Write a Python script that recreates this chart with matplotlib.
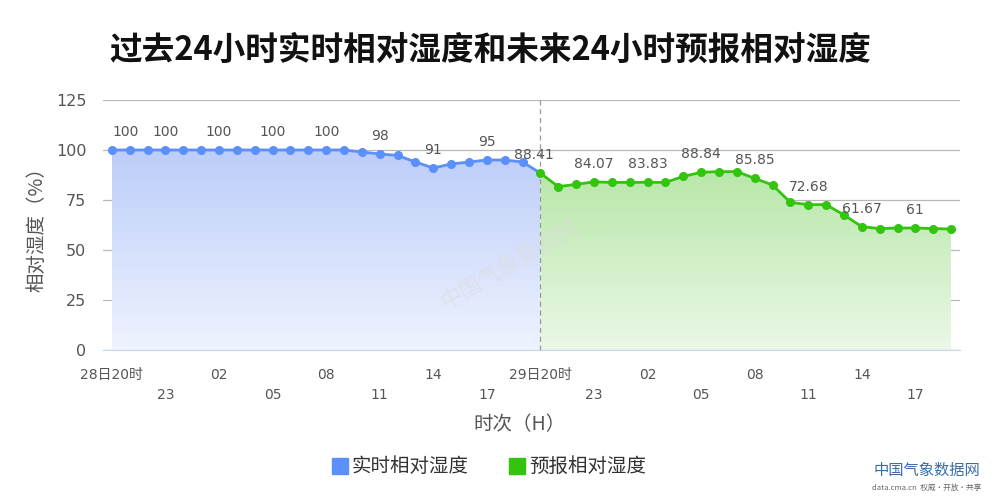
"""过去24小时实时相对湿度和未来24小时预报相对湿度"""
import numpy as np
import matplotlib
matplotlib.use("Agg")
import matplotlib.pyplot as plt
from matplotlib.patches import Rectangle

plt.rcParams["font.family"] = ["Noto Sans CJK SC", "DejaVu Sans"]
NUM_FONT = ["DejaVu Sans", "Noto Sans CJK SC"]

# 实时 (28日20时 - 29日19时), 预报 (29日20时 - 30日19时)
shishi = [100, 100, 100, 100, 100, 100, 100, 100, 100, 100, 100, 100, 100, 100,
          99, 98, 97.3, 94, 91, 93, 94, 95, 95, 94]
yubao = [88.41, 81.7, 82.8, 84.07, 83.8, 83.8, 83.83, 83.8, 86.8, 88.84, 89.2, 89.2,
         85.85, 82.5, 73.8, 72.68, 72.7, 67.5, 61.67, 60.7, 61, 61, 60.7, 60.5]
shishi_labels = ["100", "100", "100", "100", "100", "98", "91", "95"]
yubao_labels = ["88.41", "84.07", "83.83", "88.84", "85.85", "72.68", "61.67", "61"]
ore = ["28日20时", "21", "22", "23", "00", "01", "02", "03", "04", "05", "06", "07",
       "08", "09", "10", "11", "12", "13", "14", "15", "16", "17", "18", "19",
       "29日20时", "21", "22", "23", "00", "01", "02", "03", "04", "05", "06", "07",
       "08", "09", "10", "11", "12", "13", "14", "15", "16", "17", "18", "19"]

ALBASTRU = "#5b8ff9"
VERDE = "#33c40e"
GRI = "#555555"


def umple_gradient(ax, x, y, c_sus, c_jos):
    poly = ax.fill_between(x, y, 0, color="none", lw=0)
    grad = np.linspace(0, 1, 256).reshape(-1, 1)
    c1 = np.array(matplotlib.colors.to_rgb(c_sus))
    c2 = np.array(matplotlib.colors.to_rgb(c_jos))
    img = c2 + (c1 - c2) * grad
    im = ax.imshow(img[:, None, :].repeat(2, axis=1), extent=[x[0], x[-1], 0, 100],
                   origin="lower", aspect="auto", zorder=1)
    path = poly.get_paths()[0]
    im.set_clip_path(path, transform=ax.transData)


fig = plt.figure(figsize=(10, 5), dpi=100)
ax = fig.add_axes([0.103, 0.3, 0.857, 0.5])

n1 = len(shishi)
x1 = np.arange(n1 + 1)
y1 = np.array(shishi + [yubao[0]])
x2 = np.arange(n1, n1 + len(yubao))
y2 = np.array(yubao)

umple_gradient(ax, x1, y1, "#bccdf9", "#eef3fe")
umple_gradient(ax, x2, y2, "#b2e5a2", "#ebf8e7")

ax.plot(x1, y1, color=ALBASTRU, lw=2, zorder=3)
ax.plot(x1[:-1], y1[:-1], "o", color=ALBASTRU, ms=5.5, zorder=4)
ax.plot(x2, y2, color=VERDE, lw=2, marker="o", ms=5.5, zorder=5)

ax.axvline(n1, color="#999999", lw=0.9, ls=(0, (4, 3)), zorder=2)

# etichete valori la fiecare 3 ore
for j, lab in enumerate(shishi_labels):
    k = 3 * j
    dx = 10 if k == 0 else 0
    ax.annotate(lab, (x1[k], y1[k]), xytext=(dx, 13), textcoords="offset points",
                ha="center", va="center", fontsize=10, color=GRI, zorder=6,
                family=NUM_FONT)
for j, lab in enumerate(yubao_labels):
    k = 3 * j
    dx = -5 if k == 0 else 0
    ax.annotate(lab, (x2[k], y2[k]), xytext=(dx, 13), textcoords="offset points",
                ha="center", va="center", fontsize=10, color=GRI, zorder=6,
                family=NUM_FONT)

ax.set_xlim(-0.5, 47.5)
ax.set_ylim(0, 125)
ax.set_yticks([0, 25, 50, 75, 100, 125])
ax.yaxis.grid(True, color="#b8b8b8", lw=0.9)
ax.set_axisbelow(True)
for s in ["top", "right", "left"]:
    ax.spines[s].set_visible(False)
ax.spines["bottom"].set_color("#c6d4e6")
ax.tick_params(axis="y", length=0, labelsize=11.5, labelcolor=GRI, pad=12)
for t in ax.get_yticklabels():
    t.set_family(NUM_FONT)

ax.set_xticks([])
for k, lab in enumerate(ore):
    if k % 6 == 0:
        ax.text(k, -0.1, lab, transform=ax.get_xaxis_transform(), ha="center",
                va="center", fontsize=10, color=GRI, family=NUM_FONT)
    elif k % 6 == 3:
        ax.text(k, -0.18, lab, transform=ax.get_xaxis_transform(), ha="center",
                va="center", fontsize=10, color=GRI, family=NUM_FONT)

ax.set_ylabel("相对湿度（%）", fontsize=14, color=GRI, labelpad=6)
fig.text(0.52, 0.15, "时次（H）", ha="center", va="center", fontsize=14, color=GRI)

fig.text(0.49, 0.9, "过去24小时实时相对湿度和未来24小时预报相对湿度",
         ha="center", va="center", fontsize=23.5, fontweight="bold", color="#111111")

# legenda
fig.patches.append(Rectangle((0.332, 0.052), 0.016, 0.032, color=ALBASTRU,
                             transform=fig.transFigure))
fig.text(0.352, 0.067, "实时相对湿度", ha="left", va="center", fontsize=14, color="#333333")
fig.patches.append(Rectangle((0.509, 0.052), 0.016, 0.032, color=VERDE,
                             transform=fig.transFigure))
fig.text(0.529, 0.067, "预报相对湿度", ha="left", va="center", fontsize=14, color="#333333")

# watermark + logo
fig.text(0.51, 0.47, "中国气象数据网", ha="center", va="center", fontsize=16,
         color="#dddddd", alpha=0.6, rotation=30, zorder=0)
fig.text(0.927, 0.06, "中国气象数据网", ha="center", va="center", fontsize=11,
         color="#3a6ea8")
fig.text(0.927, 0.025, "data.cma.cn  权威·开放·共享", ha="center", va="center",
         fontsize=5.5, color="#666666")

fig.savefig("out.png", dpi=100)
